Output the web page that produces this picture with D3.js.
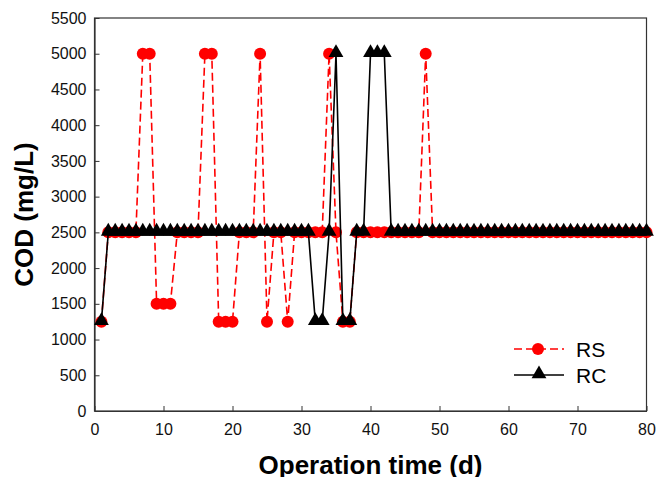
<!DOCTYPE html>
<html>
<head>
<meta charset="utf-8">
<script src="https://cdn.jsdelivr.net/npm/d3@7"></script>
<style>
  body { margin: 0; background: #fff; }
  text { font-family: "Liberation Sans", Arial, sans-serif; }
</style>
</head>
<body>
<div id="chart"></div>
<script>
// operation days 1..80
var days = [1,2,3,4,5,6,7,8,9,10,11,12,13,14,15,16,17,18,19,20,
  21,22,23,24,25,26,27,28,29,30,31,32,33,34,35,36,37,38,39,40,
  41,42,43,44,45,46,47,48,49,50,51,52,53,54,55,56,57,58,59,60,
  61,62,63,64,65,66,67,68,69,70,71,72,73,74,75,76,77,78,79,80];

var rsValues = [1250,2500,2500,2500,2500,2500,5000,5000,1500,1500,
  1500,2500,2500,2500,2500,5000,5000,1250,1250,1250,
  2500,2500,2500,5000,1250,2500,2500,1250,2500,2500,
  2500,2500,2500,5000,2500,1250,1250,2500,2500,2500,
  2500,2500,2500,2500,2500,2500,2500,5000,2500,2500,
  2500,2500,2500,2500,2500,2500,2500,2500,2500,2500,
  2500,2500,2500,2500,2500,2500,2500,2500,2500,2500,
  2500,2500,2500,2500,2500,2500,2500,2500,2500,2500];

var rcValues = [1250,2500,2500,2500,2500,2500,2500,2500,2500,2500,
  2500,2500,2500,2500,2500,2500,2500,2500,2500,2500,
  2500,2500,2500,2500,2500,2500,2500,2500,2500,2500,
  2500,1250,1250,2500,5000,1250,1250,2500,2500,5000,
  5000,5000,2500,2500,2500,2500,2500,2500,2500,2500,
  2500,2500,2500,2500,2500,2500,2500,2500,2500,2500,
  2500,2500,2500,2500,2500,2500,2500,2500,2500,2500,
  2500,2500,2500,2500,2500,2500,2500,2500,2500,2500];

var xTicks = [0,10,20,30,40,50,60,70,80];
var yTicks = [0,500,1000,1500,2000,2500,3000,3500,4000,4500,5000,5500];

var width = 656, height = 477;
var plotLeft = 94.5, plotRight = 646.5, plotTop = 18, plotBottom = 411;

var svg = d3.select("#chart").append("svg")
  .attr("width", width)
  .attr("height", height);

var x = d3.scaleLinear().domain([0, 80]).range([plotLeft, plotRight]);
var y = d3.scaleLinear().domain([0, 5500]).range([plotBottom, plotTop]);

// frame
svg.append("rect")
  .attr("x", plotLeft).attr("y", plotTop)
  .attr("width", plotRight - plotLeft).attr("height", plotBottom - plotTop)
  .attr("fill", "none").attr("stroke", "#333").attr("stroke-width", 1.2);

var xAxis = svg.append("g")
  .attr("transform", "translate(0," + plotBottom + ")")
  .call(d3.axisBottom(x).tickValues(xTicks).tickSizeInner(-5).tickSizeOuter(0).tickPadding(13));
var yAxis = svg.append("g")
  .attr("transform", "translate(" + plotLeft + ",0)")
  .call(d3.axisLeft(y).tickValues(yTicks).tickFormat(d3.format("d"))
    .tickSizeInner(-5).tickSizeOuter(0).tickPadding(8));

[xAxis, yAxis].forEach(function(a) {
  a.select(".domain").attr("stroke", "#333").attr("stroke-width", 1.2);
  a.selectAll(".tick line").attr("stroke", "#333");
  a.selectAll(".tick text")
    .attr("fill", "#111")
    .style("font-size", "16px")
    .style("font-family", '"Liberation Sans", Arial, sans-serif');
});

// axis titles
svg.append("text")
  .attr("x", (plotLeft + plotRight) / 2).attr("y", 474)
  .attr("text-anchor", "middle")
  .attr("font-size", 26).attr("font-weight", "bold")
  .text("Operation time (d)");

svg.append("text")
  .attr("transform", "translate(33," + ((plotTop + plotBottom) / 2) + ") rotate(-90)")
  .attr("text-anchor", "middle")
  .attr("font-size", 26).attr("font-weight", "bold")
  .text("COD (mg/L)");

var line = d3.line()
  .x(function(d) { return x(d[0]); })
  .y(function(d) { return y(d[1]); });

var rsData = days.map(function(d, i) { return [d, rsValues[i]]; });
var rcData = days.map(function(d, i) { return [d, rcValues[i]]; });

var tri = d3.symbol().type(d3.symbolTriangle).size(95);

// RS series
svg.append("path")
  .datum(rsData)
  .attr("d", line)
  .attr("fill", "none")
  .attr("stroke", "#ff0000")
  .attr("stroke-width", 1.6)
  .attr("stroke-dasharray", "8,4");

svg.selectAll(".rs-dot")
  .data(rsData)
  .enter().append("circle")
  .attr("class", "rs-dot")
  .attr("cx", function(d) { return x(d[0]); })
  .attr("cy", function(d) { return y(d[1]); })
  .attr("r", 6)
  .attr("fill", "#ff0000");

// RC series
svg.append("path")
  .datum(rcData)
  .attr("d", line)
  .attr("fill", "none")
  .attr("stroke", "#000")
  .attr("stroke-width", 1.6);

svg.selectAll(".rc-dot")
  .data(rcData)
  .enter().append("path")
  .attr("class", "rc-dot")
  .attr("d", tri)
  .attr("transform", function(d) { return "translate(" + x(d[0]) + "," + (y(d[1]) - 1) + ")"; })
  .attr("fill", "#000");

// legend
var legend = svg.append("g");
legend.append("line")
  .attr("x1", 514).attr("x2", 564).attr("y1", 349).attr("y2", 349)
  .attr("stroke", "#ff0000").attr("stroke-width", 1.6).attr("stroke-dasharray", "8,4");
legend.append("circle")
  .attr("cx", 538).attr("cy", 349).attr("r", 6).attr("fill", "#ff0000");
legend.append("text")
  .attr("x", 576).attr("y", 356.5).attr("font-size", 21).text("RS");

legend.append("line")
  .attr("x1", 514).attr("x2", 564).attr("y1", 375).attr("y2", 375)
  .attr("stroke", "#000").attr("stroke-width", 1.6);
legend.append("path")
  .attr("d", tri)
  .attr("transform", "translate(539,374)")
  .attr("fill", "#000");
legend.append("text")
  .attr("x", 576).attr("y", 382.5).attr("font-size", 21).text("RC");
</script>
</body>
</html>
